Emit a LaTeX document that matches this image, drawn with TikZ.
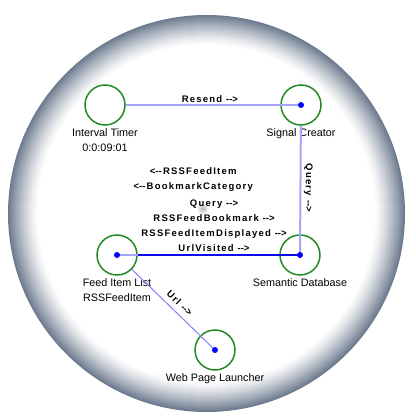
\documentclass[tikz,border=0pt]{standalone}
\usepackage{fontspec}
\setmainfont{Liberation Sans}
\newfontfamily\msgfont[LetterSpace=13]{Liberation Sans Bold}
\usetikzlibrary{positioning}
\definecolor{ringgray}{RGB}{108,122,142}
\definecolor{stngreen}{RGB}{34,139,34}
\definecolor{liteblue}{RGB}{165,165,255}
\definecolor{urlblue}{RGB}{130,130,255}
\definecolor{darkblue}{RGB}{10,10,235}
\newcommand\rarr{-\kern0pt-\kern0pt>}
\newcommand\larr{<\kern0pt-\kern0pt-}
\begin{document}
\begin{tikzpicture}[x=1pt,y=-1pt,
    station/.style={circle,draw=stngreen,line width=1.5pt,minimum size=40pt,inner sep=0pt},
    stnlabel/.style={font=\fontsize{10.8}{15}\selectfont,align=center,inner sep=0pt},
    msg/.style={font=\msgfont\fontsize{9.5}{15}\selectfont,text=black,align=center,inner sep=1pt},
    weak/.style={liteblue,line width=2pt},
    strong/.style={darkblue,line width=2pt},
    urlline/.style={urlblue,line width=1pt}]
  \useasboundingbox (0,0) rectangle (415,419);
  % background ring, fading inwards
  \coordinate (ctr) at (206.5,213.5);
  \foreach \i in {0,...,30}{
    \pgfmathsetmacro\pct{100*(1-\i/30)^1.3}
    \fill[ringgray!\pct!white] (ctr) circle (198.5-\i);
  }
  \foreach \i in {0,...,6}{
    \pgfmathsetmacro\pct{9*\i}
    \fill[gray!\pct!white] (203,209) circle (7-\i);
  }
  % stations
  \node[station] (timer) at (105,105) {};
  \node[station] (signal) at (301,105) {};
  \node[station] (feed) at (117,255) {};
  \node[station] (sem) at (300,255) {};
  \node[station] (web) at (215,350) {};
  \node[stnlabel,below=2.5pt of timer] (timerlbl) {Interval Timer\\0:0:09:01};
  \node[stnlabel,below=2.5pt of signal] (signallbl) {Signal Creator};
  \node[stnlabel,below=2.5pt of feed] (feedlbl) {Feed Item List\\RSSFeedItem};
  \node[stnlabel,below=2.5pt of sem] (semlbl) {Semantic Database};
  \node[stnlabel,below=2.5pt of web] (weblbl) {Web Page Launcher};
  % links
  \draw[weak] (timer) -- (signal.center) node[msg,pos=.48,above]{Resend \rarr};
  \draw[weak] (signal) -- (sem.center) node[msg,pos=.48,sloped,allow upside down,above=1.5pt]{Query \rarr};
  \draw[weak] (sem) -- (feed.center) node[msg,pos=.53,above=61.5pt]{\larr RSSFeedItem\\\larr BookmarkCategory};
  \draw[strong] (feed) -- (sem.center) node[msg,pos=.47,above=1.5pt]{Query \rarr\\RSSFeedBookmark \rarr\\RSSFeedItemDisplayed \rarr\\UrlVisited \rarr};
  \draw[urlline] (feed) -- (web.center) node[msg,pos=.5,sloped,above=4pt]{Url \rarr};
  \foreach \n in {signal,feed,sem,web}
    \fill[blue] (\n) circle (3);
\end{tikzpicture}
\end{document}
